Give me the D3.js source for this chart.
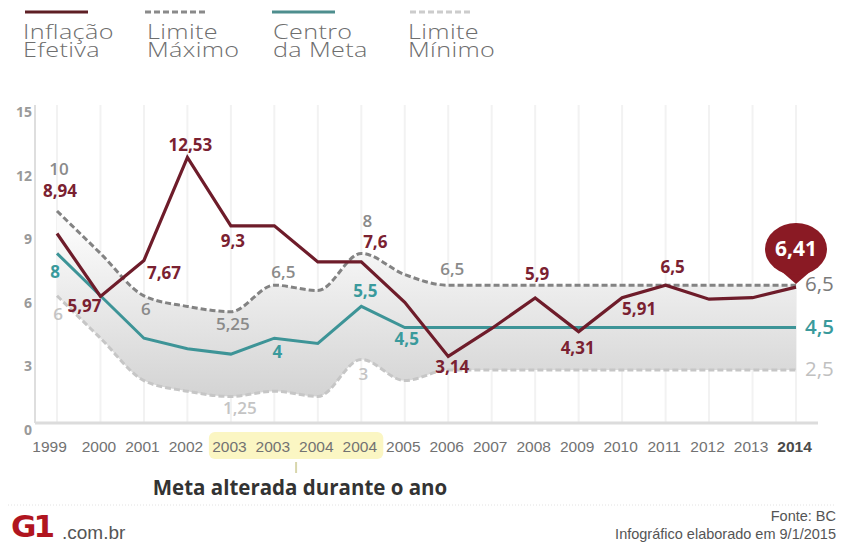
<!DOCTYPE html>
<html><head><meta charset="utf-8">
<script src="https://cdn.jsdelivr.net/npm/d3@7"></script>
<style>
html,body{margin:0;padding:0;background:#fff;}
svg{display:block;}
</style></head>
<body>
<svg id="chart" width="842" height="545"></svg>
<script>
// ---- data ----
const years = ["1999","2000","2001","2002","2003","2003","2004","2004","2005","2006","2007","2008","2009","2010","2011","2012","2013","2014"];
const inflacao = [8.94,5.97,7.67,12.53,9.3,9.3,7.6,7.6,5.69,3.14,4.46,5.9,4.31,5.91,6.5,5.84,5.91,6.41];
const limiteMax = [10,8,6,5.5,5.25,6.5,6.25,8,7,6.5,6.5,6.5,6.5,6.5,6.5,6.5,6.5,6.5];
const centroMeta = [8,6,4,3.5,3.25,4,3.75,5.5,4.5,4.5,4.5,4.5,4.5,4.5,4.5,4.5,4.5,4.5];
const limiteMin = [6,4,2,1.5,1.25,1.5,1.25,3,2,2.5,2.5,2.5,2.5,2.5,2.5,2.5,2.5,2.5];
const yTicks = [0,3,6,9,12,15];
const legendItems = ["Inflação|Efetiva","Limite|Máximo","Centro|da Meta","Limite|Mínimo"];

// ---- styles / layout ----
const C = {infl:"#6e1c2a", inflLbl:"#7a2131", max:"#838383", centro:"#3d9497", min:"#c6c6c6", bubble:"#8a1a24"};
const idx = d3.range(years.length);
const svg = d3.select("#chart");
const x = d3.scalePoint().domain(idx).range([57,796]);
const y = d3.scaleLinear().domain([0,15]).range([423,105]);
const fmt = v => String(v).replace(".", ",");

// gradient
const defs = svg.append("defs");
const g = defs.append("linearGradient").attr("id","band").attr("gradientUnits","userSpaceOnUse")
  .attr("x1",0).attr("x2",0).attr("y1",y(9)).attr("y2",y(1));
g.append("stop").attr("offset",0).attr("stop-color","#fafafa");
g.append("stop").attr("offset",1).attr("stop-color","#d2d2d2");

// vertical grid
svg.append("g").selectAll("line").data(idx).join("line")
  .attr("x1",d=>x(d)).attr("x2",d=>x(d)).attr("y1",y(15)).attr("y2",y(0))
  .attr("stroke","#f2f2f2").attr("stroke-width",2);

// axes lines
svg.append("line").attr("x1",35).attr("x2",35).attr("y1",y(15)).attr("y2",y(0)).attr("stroke","#dedede").attr("stroke-width",2);

// y tick labels
svg.append("g").selectAll("text").data(yTicks).join("text")
  .attr("x",32).attr("y",d=>y(d)+12).attr("text-anchor","end")
  .attr("font-family","'Open Sans', sans-serif").attr("font-weight",700).attr("font-size",14)
  .attr("fill","#9a9a9a").text(d=>d);

// band
const area = d3.area().x(d=>x(d)).y0(d=>y(limiteMin[d])).y1(d=>y(limiteMax[d])).curve(d3.curveMonotoneX);
svg.append("path").attr("d",area(idx)).attr("fill","url(#band)");

svg.append("line").attr("x1",35).attr("x2",818).attr("y1",y(0)).attr("y2",y(0)).attr("stroke","#dcdcdc").attr("stroke-width",3);

const lineOf = (arr, curve) => d3.line().x(d=>x(d)).y(d=>y(arr[d])).curve(curve)(idx);
svg.append("path").attr("d",lineOf(limiteMin,d3.curveMonotoneX)).attr("fill","none")
  .attr("stroke",C.min).attr("stroke-width",3).attr("stroke-dasharray","6,3");
svg.append("path").attr("d",lineOf(limiteMax,d3.curveMonotoneX)).attr("fill","none")
  .attr("stroke",C.max).attr("stroke-width",3).attr("stroke-dasharray","6,3");
svg.append("path").attr("d",lineOf(centroMeta,d3.curveLinear)).attr("fill","none")
  .attr("stroke",C.centro).attr("stroke-width",3);
svg.append("path").attr("d",lineOf(inflacao,d3.curveLinear)).attr("fill","none")
  .attr("stroke",C.infl).attr("stroke-width",3.2).attr("stroke-linejoin","miter");

// highlight box under x labels
svg.append("rect").attr("x",x(4)-22).attr("y",432).attr("width",x(7)-x(4)+44).attr("height",27)
  .attr("rx",6).attr("fill","#fbf6c3");
svg.append("line").attr("x1",(x(5)+x(6))/2).attr("x2",(x(5)+x(6))/2).attr("y1",462).attr("y2",473)
  .attr("stroke","#d8d6ac").attr("stroke-width",2);

// x axis labels
const xa = svg.append("g").attr("transform",`translate(0,${y(0)})`)
  .call(d3.axisBottom(x).tickSize(0).tickPadding(0).tickFormat(d=>years[d]));
xa.select(".domain").remove();
xa.selectAll("text").attr("font-family","'Liberation Sans', Arial, sans-serif").attr("font-size",15.5)
  .attr("fill","#727272").attr("dy",null).attr("y",29).attr("dx",-2);
xa.selectAll("text").filter(d=>d===0).attr("dx",-8);
xa.selectAll("text").filter(d=>d===years.length-1).attr("font-weight",700).attr("fill","#4a4a4a");

// annotations: [series, index, dx, dy]
const series = {infl:inflacao, max:limiteMax, centro:centroMeta, min:limiteMin};
const styleOf = {
  infl:{fill:C.inflLbl, w:700},
  max:{fill:"#8a8a8a", w:600},
  centro:{fill:"#3a9a9c", w:700},
  min:{fill:"#c4c4c4", w:600}
};
const ann = [
  ["max",0,2,-36],["infl",0,3,-36],["centro",0,-2,25],["min",0,1,24],
  ["infl",1,-16,16],["max",2,2,19],["infl",2,20,19],["infl",3,3,-6],
  ["infl",4,2,21],["max",4,2,18],["min",4,9,17],["max",5,9,-7],["centro",5,3,20],
  ["max",7,6,-26],["infl",7,14,-14],["centro",7,4,-9],["min",7,2,21],
  ["centro",8,2,17],["max",9,4,-10],["infl",9,4,17],["infl",11,2,-18],
  ["infl",12,-1,22],["infl",13,17,17],["infl",14,7,-12]
];
svg.append("g").selectAll("text").data(ann).join("text")
  .attr("x",a=>x(a[1])+a[2]).attr("y",a=>y(series[a[0]][a[1]])+a[3])
  .attr("text-anchor","middle").attr("font-family","'Open Sans', sans-serif").attr("font-size",17)
  .attr("font-weight",a=>styleOf[a[0]].w).attr("fill",a=>styleOf[a[0]].fill)
  .text(a=>fmt(series[a[0]][a[1]]));

// right end labels
const last = years.length-1;
const endL = [["max","#7a7a7a",400],["centro","#3a9a9c",600],["min","#c0c0c0",400]];
svg.append("g").selectAll("text").data(endL).join("text")
  .attr("x",x(last)+9).attr("y",e=>y(series[e[0]][last])+6)
  .attr("font-family","'Open Sans', sans-serif").attr("font-size",20.5).attr("font-weight",e=>e[2])
  .attr("fill",e=>e[1]).text(e=>fmt(series[e[0]][last]));

// bubble for last value
const bx = x(last), by = y(inflacao[last]);
const bub = svg.append("g").attr("transform",`translate(${bx},${by})`);
bub.append("path").attr("d","M-15,-16 L0,-3 L15,-16 Z").attr("fill",C.bubble);
bub.append("ellipse").attr("cx",0).attr("cy",-38).attr("rx",31).attr("ry",26).attr("fill",C.bubble);
bub.append("text").attr("x",0).attr("y",-31).attr("text-anchor","middle")
  .attr("font-family","'Open Sans', sans-serif").attr("font-weight",700).attr("font-size",21)
  .attr("fill","#fff").text(fmt(inflacao[last]));

// legend
const legX = [23,147,273,408];
const legLine = [
  {c:"#5e1f25", d:null, x1:25, x2:88},
  {c:"#8a8a8a", d:"6,3", x1:145, x2:205},
  {c:"#4e8e8e", d:null, x1:272, x2:335},
  {c:"#cccccc", d:"6,3", x1:410, x2:470}
];
const lg = svg.append("g");
legendItems.forEach((t,i)=>{
  lg.append("line").attr("x1",legLine[i].x1).attr("x2",legLine[i].x2).attr("y1",12).attr("y2",12)
    .attr("stroke",legLine[i].c).attr("stroke-width",3).attr("stroke-dasharray",legLine[i].d);
  t.split("|").forEach((s,j)=>{
    lg.append("text").attr("transform",`translate(${legX[i]},${39+j*18}) scale(1.2,1)`)
      .attr("font-family","'Open Sans', sans-serif").attr("font-weight",300).attr("font-size",21)
      .attr("letter-spacing",0.3).attr("fill","#6e6e6e").text(s);
  });
});

// caption
svg.append("text").attr("x",300).attr("y",495).attr("text-anchor","middle")
  .attr("font-family","'Open Sans', sans-serif").attr("font-weight",700).attr("font-size",20.5)
  .attr("fill","#333").text("Meta alterada durante o ano");

// footer
svg.append("line").attr("x1",8).attr("x2",836).attr("y1",505).attr("y2",505)
  .attr("stroke","#e2e2e2").attr("stroke-dasharray","1,2");
svg.append("text").attr("x",11).attr("y",537).attr("font-family","'DejaVu Sans', sans-serif")
  .attr("font-weight",700).attr("font-size",31).attr("letter-spacing",-3).attr("fill","#b0151f").text("G1");
svg.append("text").attr("x",62).attr("y",539).attr("font-family","'Liberation Sans', Arial, sans-serif")
  .attr("font-size",19).attr("fill","#555").text(".com.br");
svg.append("text").attr("x",836).attr("y",521).attr("text-anchor","end")
  .attr("font-family","'Liberation Sans', Arial, sans-serif").attr("font-size",14.5).attr("fill","#555").text("Fonte: BC");
svg.append("text").attr("x",836).attr("y",539).attr("text-anchor","end")
  .attr("font-family","'Liberation Sans', Arial, sans-serif").attr("font-size",14.5).attr("fill","#555").text("Infográfico elaborado em 9/1/2015");
</script>
</body></html>
